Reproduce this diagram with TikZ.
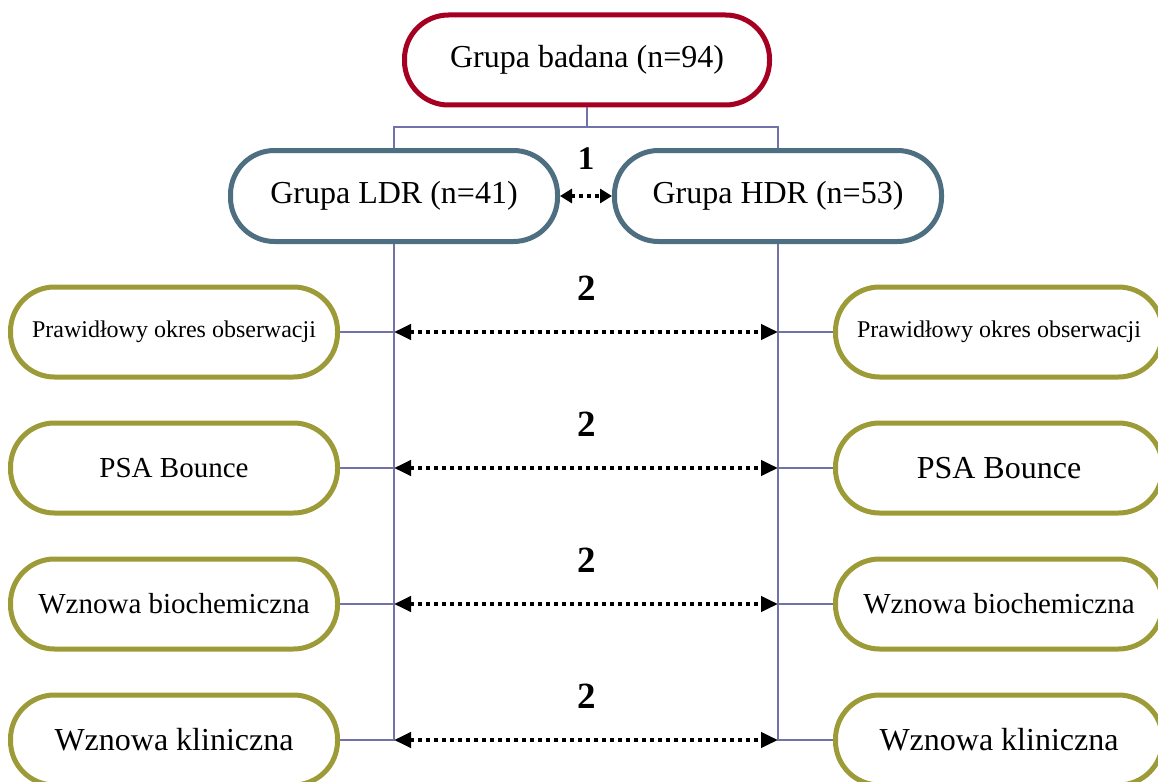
\documentclass[tikz,border=0pt]{standalone}
\usepackage{fontspec}
\setmainfont{Liberation Serif}
\usetikzlibrary{arrows.meta}
\definecolor{cred}{RGB}{165,0,33}
\definecolor{cslate}{RGB}{78,110,130}
\definecolor{colive}{RGB}{156,155,55}
\definecolor{cline}{RGB}{114,114,170}
\begin{document}
\begin{tikzpicture}[x=1pt,y=-1pt,
  pill/.style={rectangle, rounded corners=44pt, draw, line width=5pt, fill=white,
    minimum height=90pt, inner sep=0pt, text=black},
  topbox/.style={pill, draw=cred, minimum width=365pt},
  grpbox/.style={pill, draw=cslate, minimum width=327pt, minimum height=91pt},
  catbox/.style={pill, draw=colive, minimum width=327pt},
  conn/.style={draw=cline, line width=2pt},
  darr/.style={line width=4pt, dash pattern=on 4pt off 4pt,
    {Triangle[length=17pt,width=15pt]}-{Triangle[length=17pt,width=15pt]}},
  darrs/.style={line width=4pt, dash pattern=on 4pt off 4pt,
    {Triangle[length=12pt,width=14pt]}-{Triangle[length=12pt,width=14pt]}},
  num/.style={font=\fontsize{37}{40}\selectfont\bfseries, anchor=base, inner sep=0pt},
  fA/.style={font=\fontsize{32}{38}\selectfont},
  fB/.style={font=\fontsize{29}{34}\selectfont},
  fC/.style={font=\fontsize{24}{28}\selectfont}
]
\useasboundingbox (0,0) rectangle (1158,781);
\clip (0,0) rectangle (1158,781);

% top
\node[topbox, fA] (top) at (587,60) {Grupa badana (n=94)};
\node[grpbox, fA] (ldr) at (394,196) {Grupa LDR (n=41)};
\node[grpbox, fA] (hdr) at (778,196) {Grupa HDR (n=53)};

% left categories
\node[catbox, fC] (l1) at (174,332) {Prawidłowy okres obserwacji};
\node[catbox, fB] (l2) at (174,468) {PSA Bounce};
\node[catbox, fB] (l3) at (174,604) {Wznowa biochemiczna};
\node[catbox, fA] (l4) at (174,740) {Wznowa kliniczna};

% right categories
\node[catbox, fC] (r1) at (999,332) {Prawidłowy okres obserwacji};
\node[catbox, fA] (r2) at (999,468) {PSA Bounce};
\node[catbox, fB] (r3) at (999,604) {Wznowa biochemiczna};
\node[catbox, fA] (r4) at (999,740) {Wznowa kliniczna};

% tree connectors
\draw[conn] (top.south) -- ++(0,19) -| (ldr.north);
\draw[conn] (top.south) ++(0,19) -| (hdr.north);
\draw[conn] (ldr.south) |- (l4.east);
\draw[conn] (hdr.south) |- (r4.west);
\foreach \i in {1,2,3} {
  \draw[conn] (l\i.east) -- (l\i.east -| ldr.south);
  \draw[conn] (r\i.west) -- (r\i.west -| hdr.south);
}

% comparison arrows
\foreach \i in {1,2,3,4} {
  \coordinate (a\i) at (l\i.east -| ldr.south);
  \coordinate (b\i) at (r\i.west -| hdr.south);
  \draw[darr] (a\i) -- (b\i);
}
\draw[darrs] (ldr.east) -- (hdr.west);

% labels
\node[num, font=\fontsize{33}{36}\selectfont\bfseries] (n1) at (586,169) {1};
\node[num] (n2a) at (587,300) {2};
\node[num] (n2b) at (587,436) {2};
\node[num] (n2c) at (587,572) {2};
\node[num] (n2d) at (587,708) {2};
\end{tikzpicture}
\end{document}
